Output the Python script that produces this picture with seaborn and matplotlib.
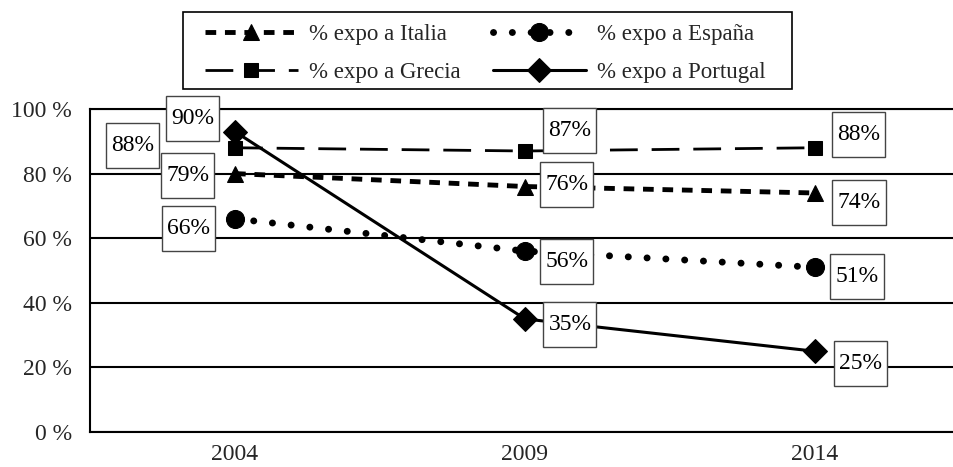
import matplotlib
matplotlib.use("Agg")
import matplotlib.pyplot as plt
from matplotlib.patches import Rectangle
from matplotlib.path import Path
import numpy as np
import seaborn as sns

# data
years = ["2004", "2009", "2014"]
italia = [80, 76, 74]
grecia = [88, 87, 88]
espana = [66, 56, 51]
portugal = [93, 35, 25]
italia_labels = ["79%", "76%", "74%"]
grecia_labels = ["88%", "87%", "88%"]
espana_labels = ["66%", "56%", "51%"]
portugal_labels = ["90%", "35%", "25%"]
yticks = [0, 20, 40, 60, 80, 100]

sns.set_theme(style="white")
plt.rcParams["font.family"] = ["Liberation Serif", "DejaVu Serif"]


def label_box(x0, y0, width, height, mutation_size):
    # tall narrow frame like the original data labels
    px, py = 5, 12
    return Path([(x0 - px, y0 - py), (x0 + width + px, y0 - py),
                 (x0 + width + px, y0 + height + py), (x0 - px, y0 + height + py),
                 (x0 - px, y0 - py)], closed=True)


fig = plt.figure(figsize=(9.54, 4.67), dpi=100)
ax = fig.add_axes([90 / 954, 1 - 432 / 467, 870 / 954, 323 / 467])

pos = np.arange(len(years))

series = [
    ("% expo a Italia", italia, italia_labels,
     dict(dashes=(2.2, 1.8), lw=3.5, marker="^", ms=12, cap="butt"),
     [(-47, -2), (42, 2), (44, -10)]),
    ("% expo a Grecia", grecia, grecia_labels,
     dict(dashes=(10, 5), lw=2, marker="s", ms=10, cap="butt"),
     [(-102, 2), (45, 20), (44, 13)]),
    ("% expo a España", espana, espana_labels,
     dict(dashes=(0.01, 2.7), lw=5, marker="o", ms=13, cap="round"),
     [(-46, -10), (42, -10), (42, -9)]),
    ("% expo a Portugal", portugal, portugal_labels,
     dict(dashes=None, lw=2.2, marker="D", ms=12, cap="butt"),
     [(-42, 13), (45, -6), (46, -12)]),
]

for name, vals, labs, st, offsets in series:
    sns.lineplot(x=pos, y=vals, ax=ax, color="black", lw=st["lw"],
                 marker=st["marker"], ms=st["ms"], mfc="black", mec="black",
                 label=name)
    line = ax.lines[-1]
    if st["dashes"] is not None:
        line.set_linestyle((0, st["dashes"]))
    line.set_dash_capstyle(st["cap"])
    for x, v, lab, off in zip(pos, vals, labs, offsets):
        ax.annotate(lab, (x, v), xytext=off, textcoords="offset pixels",
                    ha="center", va="center", fontsize=17, color="black",
                    bbox=dict(boxstyle=label_box, fc="white", ec="#444444", lw=1),
                    zorder=5)

ax.set_xlim(-0.5, 2.5)
ax.set_ylim(0, 100)
ax.set_yticks(yticks)
ax.set_yticklabels([f"{v} %" for v in yticks], fontsize=17)
ax.set_xticks(pos)
ax.set_xticklabels(years, fontsize=17)
ax.set_xticks([-0.5, 0.5, 1.5, 2.5], minor=True)
ax.tick_params(axis="x", which="major", length=0, pad=9)
ax.tick_params(axis="x", which="minor", length=8, width=1.5, direction="out", color="black")
ax.tick_params(axis="y", length=10, width=1.5, direction="out", color="black", pad=3)
ax.yaxis.grid(True, color="black", lw=1.5)
ax.xaxis.grid(False)
ax.set_xlabel("")
ax.set_ylabel("")
for s in ["left", "bottom", "top"]:
    ax.spines[s].set_color("black")
    ax.spines[s].set_linewidth(1.5)
ax.spines["right"].set_visible(False)

h, l = ax.get_legend_handles_labels()
leg = ax.legend(h, l, ncol=2,
                loc="upper left", bbox_to_anchor=(205 / 954, 1 - 24 / 467),
                bbox_transform=fig.transFigure, fontsize=16.5, frameon=False,
                handlelength=4.05, handletextpad=0.5, columnspacing=1.4,
                labelspacing=0.75, borderpad=0, borderaxespad=0, numpoints=1)
# legend frame, drawn wider than the entries like in the original
fig.patches.append(Rectangle((183 / 954, 1 - 89 / 467), 609 / 954, 77 / 467,
                             transform=fig.transFigure, fill=False,
                             ec="black", lw=1.2))

fig.savefig("out.png", dpi=100)
